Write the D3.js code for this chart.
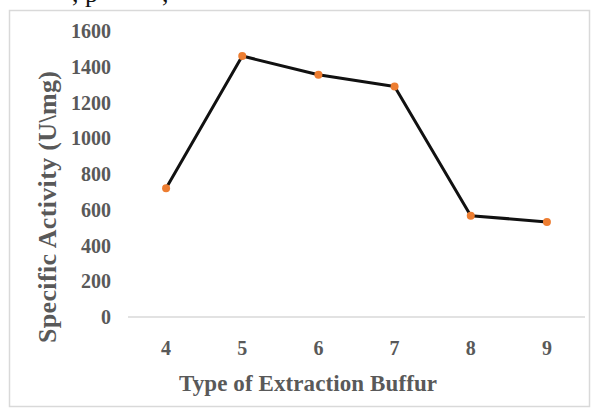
<!DOCTYPE html>
<html>
<head>
<meta charset="utf-8">
<script src="https://cdn.jsdelivr.net/npm/d3@7"></script>
<style>
  html, body { margin: 0; padding: 0; background: #fff; }
  svg { display: block; }
  .tick-label { font-family: "Liberation Serif", "DejaVu Serif", serif; font-weight: bold; fill: #595959; font-size: 20px; }
  .axis-title { font-family: "Liberation Serif", "DejaVu Serif", serif; font-weight: bold; fill: #595959; font-size: 23px; }
</style>
</head>
<body>
<div id="chart"></div>
<script>
// Data
const categories = ['4', '5', '6', '7', '8', '9'];
const activityValues = [720, 1460, 1355, 1290, 567, 532];
const yTicks = [0, 200, 400, 600, 800, 1000, 1200, 1400, 1600];

const W = 598, H = 409;
const plot = { left: 128, right: 585, top: 31, bottom: 317 };

const svg = d3.select('#chart').append('svg')
  .attr('width', W)
  .attr('height', H);

// Caption fragment cut off at the top of the picture
svg.append('text')
  .attr('x', 72).attr('y', 2)
  .style('font-family', '"Liberation Serif", serif')
  .style('font-size', '26px')
  .attr('fill', '#111')
  .text(', p');
svg.append('text')
  .attr('x', 162).attr('y', 2)
  .style('font-family', '"Liberation Serif", serif')
  .style('font-size', '26px')
  .attr('fill', '#111')
  .text(',');

// Chart frame
svg.append('rect')
  .attr('x', 9.5).attr('y', 10.5)
  .attr('width', 580).attr('height', 396)
  .attr('fill', 'none')
  .attr('stroke', '#d9d9d9')
  .attr('stroke-width', 1.5);

const x = d3.scaleBand()
  .domain(categories)
  .range([plot.left, plot.right]);

const y = d3.scaleLinear()
  .domain([0, 1600])
  .range([plot.bottom, plot.top]);

// Category axis line
svg.append('line')
  .attr('x1', plot.left).attr('x2', plot.right)
  .attr('y1', y(0)).attr('y2', y(0))
  .attr('stroke', '#d9d9d9')
  .attr('stroke-width', 1.5);

// Y tick labels
svg.selectAll('.ylab')
  .data(yTicks)
  .enter().append('text')
  .attr('class', 'tick-label')
  .attr('x', 111)
  .attr('y', d => y(d))
  .attr('dy', '0.35em')
  .attr('text-anchor', 'end')
  .text(d => d);

// X tick labels
svg.selectAll('.xlab')
  .data(categories)
  .enter().append('text')
  .attr('class', 'tick-label')
  .attr('x', d => x(d) + x.bandwidth() / 2)
  .attr('y', 348)
  .attr('dy', '0.35em')
  .attr('text-anchor', 'middle')
  .text(d => d);

// Axis titles
svg.append('text')
  .attr('class', 'axis-title')
  .style('font-size', '26px')
  .attr('transform', 'translate(47,207) rotate(-90)')
  .attr('text-anchor', 'middle')
  .attr('dy', '0.35em')
  .attr('textLength', 272)
  .attr('lengthAdjust', 'spacing')
  .text('Specific Activity (U\\mg)');

svg.append('text')
  .attr('class', 'axis-title')
  .attr('x', 308)
  .attr('y', 383)
  .attr('dy', '0.35em')
  .attr('text-anchor', 'middle')
  .attr('textLength', 258)
  .attr('lengthAdjust', 'spacing')
  .text('Type of Extraction Buffur');

// Series
const points = categories.map((c, i) => ({ cat: c, value: activityValues[i] }));
const line = d3.line()
  .x(d => x(d.cat) + x.bandwidth() / 2)
  .y(d => y(d.value));

svg.append('path')
  .datum(points)
  .attr('d', line)
  .attr('fill', 'none')
  .attr('stroke', '#111')
  .attr('stroke-width', 3)
  .attr('stroke-linejoin', 'round');

svg.selectAll('.marker')
  .data(points)
  .enter().append('circle')
  .attr('cx', d => x(d.cat) + x.bandwidth() / 2)
  .attr('cy', d => y(d.value))
  .attr('r', 4)
  .attr('fill', '#ED7D31');
</script>
</body>
</html>
